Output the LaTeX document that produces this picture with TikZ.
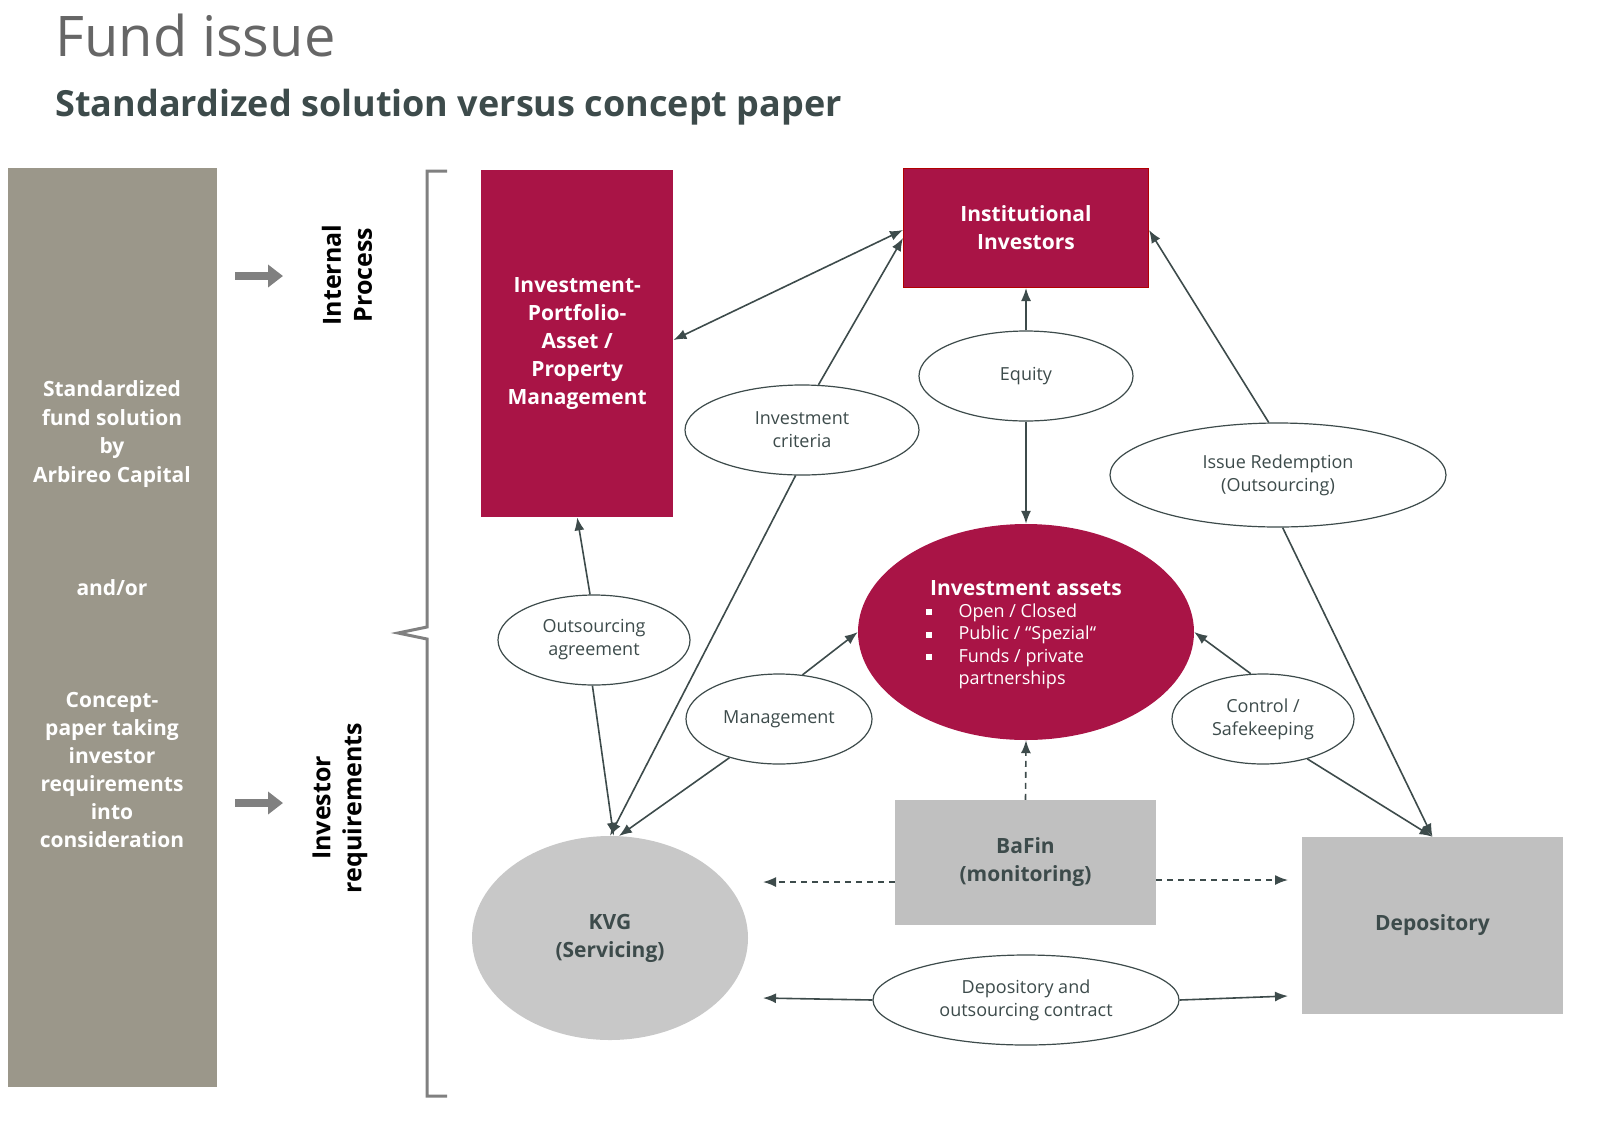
\documentclass[tikz,border=0pt]{standalone}
\usepackage{fontspec}
\setmainfont{Open Sans}
\usetikzlibrary{shapes.geometric,arrows.meta}
\definecolor{crim}{HTML}{A91446}
\definecolor{taupe}{HTML}{9B978A}
\definecolor{ln}{HTML}{3D4B4B}
\definecolor{kvg}{HTML}{C8C8C8}
\definecolor{bf}{HTML}{C0C0C0}
\newcommand{\bsq}{\makebox[33pt][l]{\rule[2pt]{6pt}{6pt}}}
\begin{document}
\begin{tikzpicture}[x=1pt,y=-1pt,
 box/.style={fill=crim,text=white,font=\fontsize{21}{28}\selectfont\bfseries,align=center,inner sep=0},
 lab/.style={ellipse,draw=ln,line width=1.2pt,fill=white,inner sep=0,align=center,font=\fontsize{18}{23}\selectfont,text=ln},
 con/.style={draw=ln,line width=1.6pt,-{Latex[length=13pt,width=10pt]}},
 dcon/.style={con,dashed,dash pattern=on 6pt off 5pt}]
\useasboundingbox (0,0) rectangle (1600,1133);
\node[anchor=west,text=gray!80!black,font=\fontsize{56}{60}\selectfont] (t) at (52,35) {Fund issue};
\node[anchor=west,text=ln,font=\fontsize{36}{40}\selectfont\bfseries] (st) at (52,107) {Standardized solution versus concept paper};
\node[fill=taupe,minimum width=209,minimum height=919,anchor=north west,inner sep=0] (panel) at (8,168) {};
\node[text=white,font=\fontsize{21}{28.5}\selectfont\bfseries,align=center] (p1) at (112,434) {Standardized\\fund solution\\by\\Arbireo Capital};
\node[text=white,font=\fontsize{21}{28}\selectfont\bfseries] (p2) at (112,588) {and/or};
\node[text=white,font=\fontsize{21}{28}\selectfont\bfseries,align=center] (p3) at (112,770) {Concept-\\paper taking\\investor\\requirements\\into\\consideration};
\coordinate (a1s) at (235,276); \coordinate (a1e) at (283,276);
\coordinate (a2s) at (235,803); \coordinate (a2e) at (283,803);
\draw[gray,line width=8pt,-{Triangle[length=15pt,width=22pt]}] (a1s) -- (a1e);
\draw[gray,line width=8pt,-{Triangle[length=15pt,width=22pt]}] (a2s) -- (a2e);
\node[rotate=90,font=\fontsize{25}{31}\selectfont\bfseries,align=center] (ip) at (347,275) {Internal\\Process};
\node[rotate=90,font=\fontsize{25}{31}\selectfont\bfseries,align=center] (ir) at (340,808) {Investor\\requirements};
\draw[gray,line width=3pt] (447,171) -- (427,171) -- (427,627) -- (398,633) -- (427,639) -- (427,1096) -- (447,1096);
\node[box,minimum width=192,minimum height=347,anchor=north west] (ipm) at (481,170) {Investment-\\Portfolio-\\Asset /\\Property\\Management};
\node[box,draw=red!70!black,line width=1pt,minimum width=245,minimum height=119,anchor=north west] (ii) at (903,168) {Institutional\\Investors};
\node[ellipse,fill=crim,minimum width=336,minimum height=216,inner sep=0] (ia) at (1026,632) {};
\node[text=white,font=\fontsize{21}{26}\selectfont\bfseries] (iat) at (1026,588) {Investment assets};
\node[text=white,font=\fontsize{18}{22.5}\selectfont,anchor=north west,align=left] (iab) at (922,600) {\bsq Open / Closed\\\bsq Public / “Spezial“\\\bsq Funds / private\\\hspace*{33pt}partnerships};
\node[ellipse,fill=kvg,minimum width=276,minimum height=204,inner sep=0,font=\fontsize{21}{28}\selectfont\bfseries,text=ln,align=center] (kvg) at (610,938) {KVG\\(Servicing)};
\node[fill=bf,minimum width=261,minimum height=125,inner sep=0,font=\fontsize{21}{28}\selectfont\bfseries,text=ln,align=center] (bafin) at (1025.5,862.5) {BaFin\\(monitoring)};
\node[fill=bf,minimum width=261,minimum height=177,inner sep=0,font=\fontsize{21}{28}\selectfont\bfseries,text=ln] (dep) at (1432.5,925.5) {Depository};
\node[lab,minimum width=234,minimum height=90] (ic) at (802,430) {Investment\\criteria};
\node[lab,minimum width=214,minimum height=90] (eq) at (1026,376) {Equity};
\node[lab,minimum width=336,minimum height=104] (isr) at (1278,475) {Issue Redemption\\(Outsourcing)};
\node[lab,minimum width=192,minimum height=90] (oa) at (594,640) {Outsourcing\\agreement};
\node[lab,minimum width=186,minimum height=90] (mg) at (779,719) {Management};
\node[lab,minimum width=182,minimum height=90] (cs) at (1263,719) {Control /\\Safekeeping};
\node[lab,minimum width=306,minimum height=90] (dc) at (1026,1000) {Depository and\\outsourcing contract};
\draw[con,{Latex[length=13pt,width=10pt]}-{Latex[length=13pt,width=10pt]}] (ipm.east |- 0,340) -- (ii.west |- 0,230);
\draw[con] (ic.70) -- (ii.west |- 0,238);
\draw[con] (ic.262) -- (kvg.north);
\draw[con] (eq.north) -- (ii.south);
\draw[con] (eq.south) -- (ia.north);
\draw[con] (isr.100) -- (ii.east |- 0,230);
\draw[con] (isr.275) -- (dep.north);
\draw[con] (oa.95) -- (ipm.south);
\draw[con] (oa.268) -- (kvg.88);
\draw[con] (mg.62) -- (ia.west);
\draw[con] (mg.218) -- (kvg.85);
\draw[con] (cs.105) -- (ia.east);
\draw[con] (cs.318) -- (dep.north);
\draw[dcon] (bafin.north) -- (ia.south);
\draw[dcon] (bafin.west |- 0,882) -- (763,882);
\draw[dcon] (bafin.east |- 0,880) -- (1288,880);
\draw[con] (dc.west) -- (763,998);
\draw[con] (dc.east) -- (1288,996);
\end{tikzpicture}
\end{document}
